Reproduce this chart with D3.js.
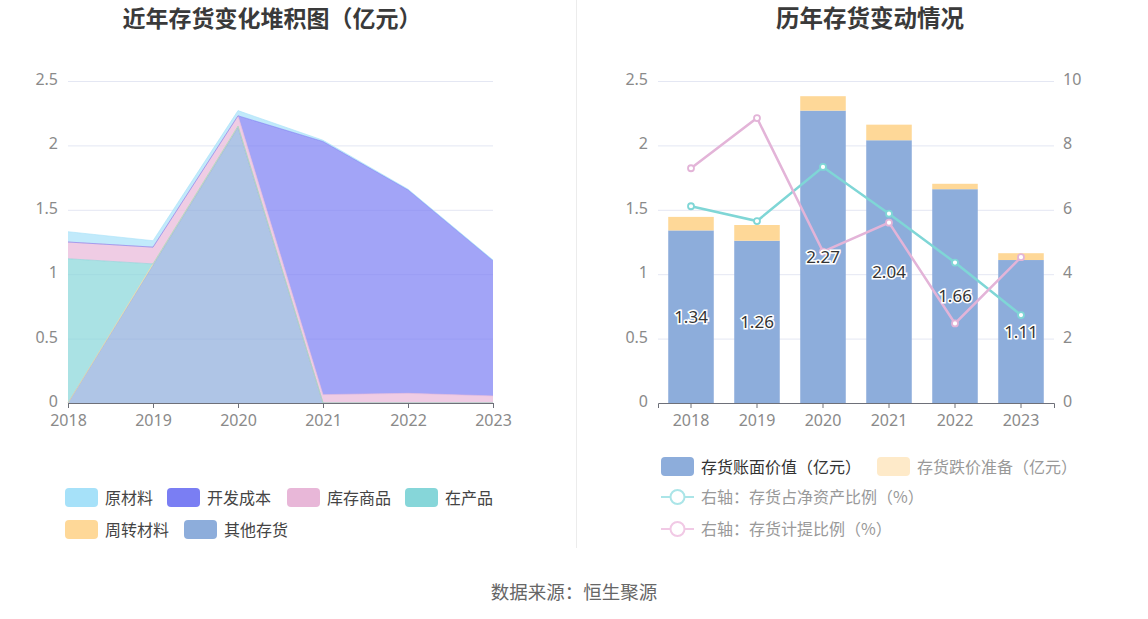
<!DOCTYPE html>
<html><head><meta charset="utf-8">
<script src="https://cdn.jsdelivr.net/npm/d3@7"></script>
<style>
html,body{margin:0;padding:0;background:#fff;}
svg{display:block;font-family:"Noto Sans CJK SC","Noto Sans",sans-serif;}
</style></head>
<body><svg id="c" width="1148" height="619"></svg>
<script>
const years = ["2018","2019","2020","2021","2022","2023"];
// left stacked area (亿元)
const rawMaterial = [0.08, 0.05, 0.04, 0.01, 0.005, 0.005];   // 原材料
const devCost     = [0, 0, 0, 1.965, 1.58, 1.05];              // 开发成本
const goods       = [0.13, 0.13, 0.08, 0.065, 0.075, 0.055];   // 库存商品
const wip         = [1.12, 0, 0, 0, 0, 0];                     // 在产品
const turnover    = [0, 0.01, 0.01, 0, 0, 0];                  // 周转材料
const otherInv    = [0, 1.07, 2.14, 0, 0, 0];                  // 其他存货
// right chart
const bookValue   = [1.34, 1.26, 2.27, 2.04, 1.66, 1.11];      // 存货账面价值
const reserve     = [0.105, 0.122, 0.112, 0.121, 0.042, 0.053];// 存货跌价准备
const ratioNet    = [6.11, 5.65, 7.33, 5.88, 4.36, 2.73];      // 存货占净资产比例
const ratioProv   = [7.29, 8.85, 4.70, 5.60, 2.47, 4.53];      // 存货计提比例
const leftTicks = [0, 0.5, 1, 1.5, 2, 2.5];
const rightTicks = [0, 2, 4, 6, 8, 10];

const svg = d3.select("#c");
const gridC = "#e4e7f3", axisC = "#6e7079", labC = "#8a8a8a";
const numFont = "Noto Sans, sans-serif";

// titles
svg.append("text").attr("x",272).attr("y",27).attr("text-anchor","middle")
  .attr("font-size",23).attr("font-weight","bold").attr("fill","#3a3a3a").text("近年存货变化堆积图（亿元）");
svg.append("text").attr("x",870).attr("y",27).attr("text-anchor","middle")
  .attr("font-size",23.5).attr("font-weight","bold").attr("fill","#3a3a3a").text("历年存货变动情况");
svg.append("line").attr("x1",576.5).attr("x2",576.5).attr("y1",0).attr("y2",548).attr("stroke","#ececec");
svg.append("text").attr("x",574).attr("y",599).attr("text-anchor","middle")
  .attr("font-size",18.5).attr("fill","#666").text("数据来源：恒生聚源");

// ---------- left chart ----------
const series = [
  {name:"原材料", color:"#a6e1f9", data:rawMaterial},
  {name:"开发成本", color:"#7a7ef3", data:devCost},
  {name:"库存商品", color:"#e8b7d8", data:goods},
  {name:"在产品", color:"#86d6d9", data:wip},
  {name:"周转材料", color:"#fed898", data:turnover},
  {name:"其他存货", color:"#8daddb", data:otherInv}
];
const stackOrder = ["其他存货","周转材料","在产品","库存商品","开发成本","原材料"];
const rows = years.map((y,i)=>{const o={year:y}; series.forEach(s=>o[s.name]=s.data[i]); return o;});
const stacked = d3.stack().keys(stackOrder)(rows);
const xL = d3.scalePoint().domain(years).range([68,493]);
const yL = d3.scaleLinear().domain([0,2.5]).range([403,81]);
const gL = svg.append("g");
gL.append("g").selectAll("line").data(leftTicks.slice(1)).join("line")
  .attr("x1",68).attr("x2",493).attr("y1",d=>yL(d)+0.5).attr("y2",d=>yL(d)+0.5).attr("stroke",gridC);
const area = d3.area().x((d,i)=>xL(years[i])).y0(d=>yL(d[0])).y1(d=>yL(d[1]));
const colorOf = n => series.find(s=>s.name===n).color;
gL.append("g").selectAll("path").data(stacked).join("path")
  .attr("d",area).attr("fill",d=>colorOf(d.key)).attr("fill-opacity",0.7);
const line = d3.line().x((d,i)=>xL(years[i])).y(d=>yL(d[1]));
gL.append("g").selectAll("path").data(stacked).join("path")
  .attr("d",line).attr("fill","none").attr("stroke",d=>colorOf(d.key)).attr("stroke-opacity",0.6).attr("stroke-width",1);
const axL = gL.append("g").attr("transform","translate(0,403)")
  .call(d3.axisBottom(xL).tickSize(5).tickPadding(7));
axL.select(".domain").attr("stroke",axisC);
axL.selectAll(".tick line").attr("stroke",axisC);
axL.selectAll("text").attr("font-size",16).attr("fill",labC).attr("font-family",numFont);
const ayL = gL.append("g").attr("transform","translate(68,0)")
  .call(d3.axisLeft(yL).tickValues(leftTicks).tickFormat(d3.format("~g")).tickSize(0).tickPadding(10));
ayL.select(".domain").remove();
ayL.selectAll("text").attr("font-size",16).attr("fill",labC).attr("font-family",numFont).attr("dy","0.22em");

// left legend
const legL = [
  {name:"原材料",x:65,y:488},{name:"开发成本",x:167,y:488},{name:"库存商品",x:287,y:488},{name:"在产品",x:405,y:488},
  {name:"周转材料",x:65,y:520},{name:"其他存货",x:184,y:520}];
legL.forEach(l=>{
  svg.append("rect").attr("x",l.x).attr("y",l.y).attr("width",33).attr("height",19).attr("rx",4)
    .attr("fill",colorOf(l.name));
  svg.append("text").attr("x",l.x+40).attr("y",l.y+15.5).attr("font-size",16).attr("fill","#444").text(l.name);
});

// ---------- right chart ----------
const xR = d3.scaleBand().domain(years).range([658,1054]).paddingInner(0.31).paddingOuter(0.155);
const xC = d => xR(d)+xR.bandwidth()/2;
const yR = d3.scaleLinear().domain([0,2.5]).range([403,81]);
const yR2 = d3.scaleLinear().domain([0,10]).range([403,81]);
const gR = svg.append("g");
gR.append("g").selectAll("line").data(leftTicks.slice(1)).join("line")
  .attr("x1",658).attr("x2",1054).attr("y1",d=>yR(d)+0.5).attr("y2",d=>yR(d)+0.5).attr("stroke",gridC);
gR.append("g").selectAll("rect").data(years).join("rect")
  .attr("x",d=>xR(d)).attr("width",xR.bandwidth())
  .attr("y",(d,i)=>yR(bookValue[i])).attr("height",(d,i)=>yR(0)-yR(bookValue[i])).attr("fill","#8daddb");
gR.append("g").selectAll("rect").data(years).join("rect")
  .attr("x",d=>xR(d)).attr("width",xR.bandwidth())
  .attr("y",(d,i)=>yR(bookValue[i]+reserve[i])).attr("height",(d,i)=>yR(bookValue[i])-yR(bookValue[i]+reserve[i])).attr("fill","#fed898");
const axR = gR.append("g").attr("transform","translate(0,403)")
  .call(d3.axisBottom(xR).tickSize(5).tickPadding(7));
axR.select(".domain").attr("stroke",axisC);
axR.selectAll(".tick line").attr("stroke",axisC);
axR.selectAll("text").attr("font-size",16).attr("fill",labC).attr("font-family",numFont);
const ayR = gR.append("g").attr("transform","translate(658,0)")
  .call(d3.axisLeft(yR).tickValues(leftTicks).tickFormat(d3.format("~g")).tickSize(0).tickPadding(10));
ayR.select(".domain").remove();
ayR.selectAll("text").attr("font-size",16).attr("fill",labC).attr("font-family",numFont).attr("dy","0.22em");
const ayR2 = gR.append("g").attr("transform","translate(1054,0)")
  .call(d3.axisRight(yR2).tickValues(rightTicks).tickSize(0).tickPadding(9));
ayR2.select(".domain").remove();
ayR2.selectAll("text").attr("font-size",16).attr("fill",labC).attr("font-family",numFont).attr("dy","0.22em");

const lines = [{data:ratioNet,color:"#7fd6d6"},{data:ratioProv,color:"#e3b4d8"}];
lines.forEach(L=>{
  const ln = d3.line().x((d,i)=>xC(years[i])).y(d=>yR2(d));
  gR.append("path").attr("d",ln(L.data)).attr("fill","none").attr("stroke",L.color).attr("stroke-width",2.5);
  gR.append("g").selectAll("circle").data(L.data).join("circle")
    .attr("cx",(d,i)=>xC(years[i])).attr("cy",d=>yR2(d)).attr("r",3)
    .attr("fill","#fff").attr("stroke",L.color).attr("stroke-width",1.8);
});
// bar labels
gR.append("g").selectAll("text").data(bookValue).join("text")
  .attr("x",(d,i)=>xC(years[i])).attr("y",d=>yR(d/2)+6).attr("text-anchor","middle")
  .attr("font-size",17).attr("fill","#333").attr("stroke","#fff").attr("stroke-width",3)
  .attr("paint-order","stroke").attr("font-family",numFont).text(d=>d.toFixed(2));

// right legend
svg.append("rect").attr("x",661).attr("y",457).attr("width",33).attr("height",19).attr("rx",4).attr("fill","#8daddb");
svg.append("text").attr("x",701).attr("y",472.5).attr("font-size",16).attr("fill","#333").text("存货账面价值（亿元）");
svg.append("rect").attr("x",877).attr("y",457).attr("width",33).attr("height",19).attr("rx",4).attr("fill","#feeac9");
svg.append("text").attr("x",917).attr("y",472.5).attr("font-size",16).attr("fill","#999").text("存货跌价准备（亿元）");
const legLines = [{y:497,color:"#abe5e8",text:"右轴：存货占净资产比例（%）"},{y:529,color:"#f1c9e5",text:"右轴：存货计提比例（%）"}];
legLines.forEach(l=>{
  svg.append("line").attr("x1",661).attr("x2",694).attr("y1",l.y).attr("y2",l.y).attr("stroke",l.color).attr("stroke-width",2);
  svg.append("circle").attr("cx",677.5).attr("cy",l.y).attr("r",7).attr("fill","#fff").attr("stroke",l.color).attr("stroke-width",2);
  svg.append("text").attr("x",701).attr("y",l.y+5.5).attr("font-size",16).attr("fill","#999").text(l.text);
});
</script></body></html>
